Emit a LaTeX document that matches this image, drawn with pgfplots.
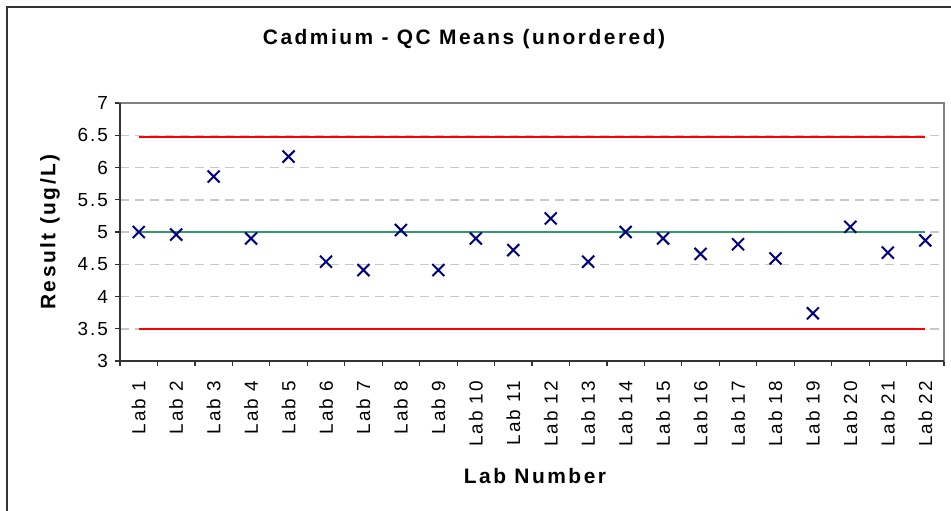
\documentclass[border=0pt]{standalone}
\usepackage{fontspec}
\setmainfont{Liberation Sans}
\newfontfamily\wide{Liberation Sans}[LetterSpace=10]
\newfontfamily\wideb{Liberation Sans}[LetterSpace=12]
\usepackage{pgfplots}
\pgfplotsset{compat=1.18}
\definecolor{navyx}{HTML}{000080}
\definecolor{seagreen}{HTML}{339966}
\definecolor{gridgray}{HTML}{C8C8C8}
\definecolor{boxgray}{HTML}{808080}

\begin{document}
\begin{tikzpicture}[x=1bp,y=1bp]
\useasboundingbox (0,0) rectangle (951,-511);
\fill[white] (0,0) rectangle (951,-511);
\draw[line width=2bp, black!80] (7,-530) -- (7,-7) -- (970,-7);

\begin{axis}[
  at={(120bp,-361bp)}, anchor=south west,
  scale only axis, width=824bp, height=258bp,
  xmin=0.5, xmax=22.5, ymin=3, ymax=7,
  xtick={1,...,22},
  xticklabels={Lab 1,Lab 2,Lab 3,Lab 4,Lab 5,Lab 6,Lab 7,Lab 8,Lab 9,Lab 10,Lab 11,
    Lab 12,Lab 13,Lab 14,Lab 15,Lab 16,Lab 17,Lab 18,Lab 19,Lab 20,Lab 21,Lab 22},
  minor xtick={0.5,1.5,...,22.5},
  ytick={3,3.5,...,7},
  /pgf/number format/assume math mode=true,
  tick align=outside,
  x tick style={draw=none},
  minor x tick style={draw=black!80, line width=1.2bp},
  minor tick length=5bp,
  y tick style={draw=black!80, line width=1.2bp},
  major tick length=5bp,
  xtick pos=bottom, ytick pos=left,
  ymajorgrids,
  major grid style={gridgray, line width=1.5bp, dash pattern=on 9bp off 6bp},
  axis line style={boxgray, line width=1.5bp},
  tick label style={font=\wide\fontsize{19}{22}\selectfont, black},
  xticklabel style={rotate=90, anchor=east, inner sep=0pt},
  xticklabel shift=15bp,
  yticklabel style={anchor=east, inner sep=0pt},
  yticklabel shift=7bp,
  clip=false,
]
\addplot[red, line width=2bp] coordinates {(1,6.47) (22,6.47)};
\addplot[red, line width=2bp] coordinates {(1,3.5) (22,3.5)};
\addplot[seagreen, line width=2bp] coordinates {(1,5.0) (22,5.0)};
\addplot[only marks, mark=x, mark size=8.5bp, navyx, line width=2bp] coordinates {
  (1,5.00) (2,4.96) (3,5.86) (4,4.90) (5,6.17) (6,4.54) (7,4.41) (8,5.03)
  (9,4.41) (10,4.90) (11,4.72) (12,5.21) (13,4.54) (14,5.00) (15,4.90)
  (16,4.66) (17,4.81) (18,4.59) (19,3.74) (20,5.08) (21,4.68) (22,4.87)
};
\draw[black!80, line width=1.5bp] (rel axis cs:0,1) -- (rel axis cs:0,0) -- (rel axis cs:1,0);
\end{axis}

\node[font=\wideb\bfseries\fontsize{21}{24}\selectfont] at (464,-39) {Cadmium - QC Means (unordered)};
\node[font=\wideb\bfseries\fontsize{21}{24}\selectfont, rotate=90] at (50,-232) {Result (ug/L)};
\node[font=\wideb\bfseries\fontsize{21}{24}\selectfont] at (535,-476) {Lab Number};
\end{tikzpicture}
\end{document}
